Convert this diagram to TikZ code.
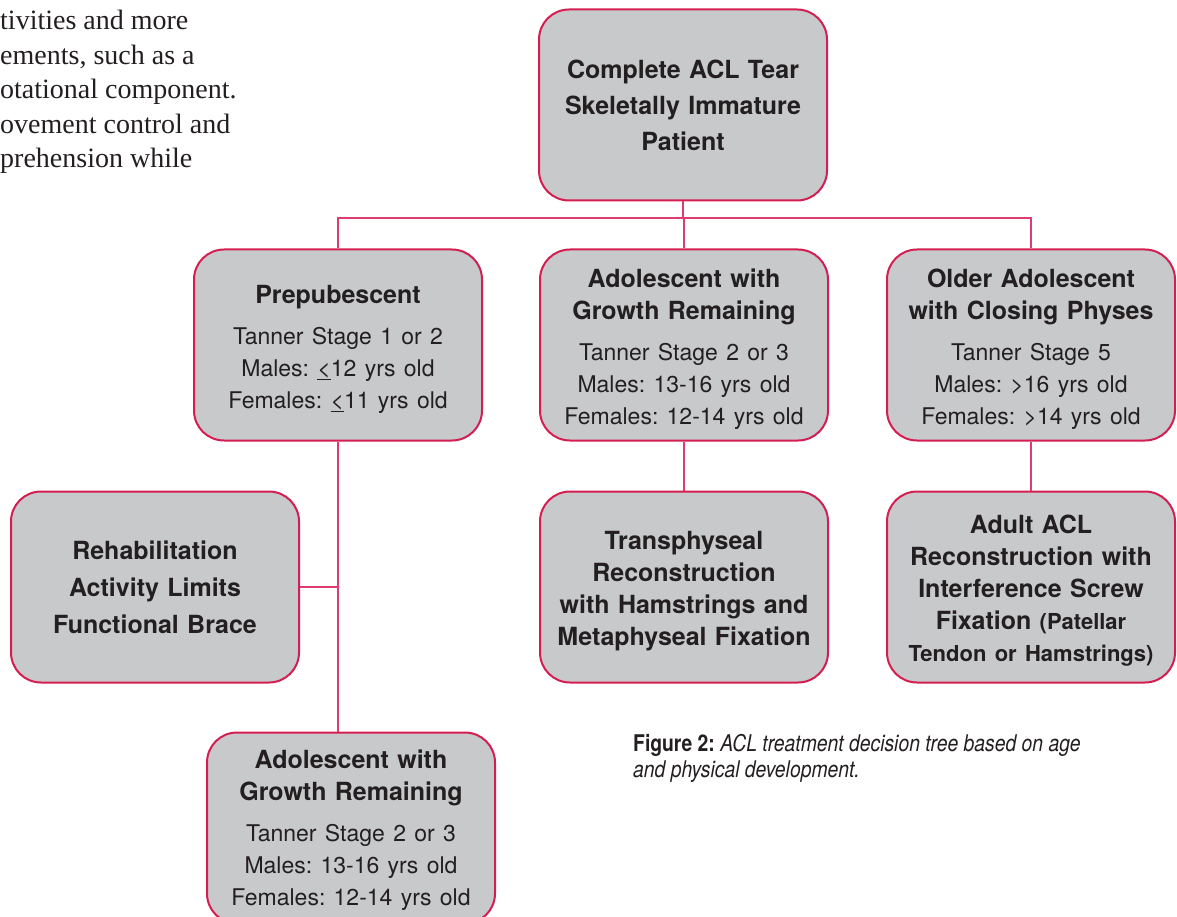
\documentclass[tikz,border=0pt]{standalone}
\usepackage{fontspec}
\setmainfont{TeX Gyre Heros}
\newfontfamily\capface[FakeStretch=0.84]{TeX Gyre Heros}
\newfontfamily\bodyface{Liberation Serif}
\definecolor{aclred}{RGB}{212,30,82}
\definecolor{aclwire}{RGB}{222,60,110}
\definecolor{aclgrey}{RGB}{200,201,203}
\definecolor{acltext}{RGB}{35,31,32}
\newcommand\ttlsize{\fontsize{25}{32}\selectfont\bfseries}
\newcommand\subsize{\fontsize{23}{32}\selectfont\mdseries}
\newcommand\smallttl{\fontsize{22}{32}\selectfont\bfseries}
\frenchspacing
\tikzset{
  box/.style={draw=aclred, line width=2pt, fill=aclgrey, rounded corners=30pt,
    minimum width=288pt, minimum height=191pt, text width=280pt, align=center,
    text=acltext, font=\ttlsize, inner sep=0pt},
  lowered/.style={execute at end node={\par\vspace{-#1}}},
  wire/.style={draw=aclwire, line width=1.6pt},
}
\begin{document}
\begin{tikzpicture}[x=1pt, y=-1pt]
  \useasboundingbox (0,0) rectangle (1177,917);
  \clip (0,0) rectangle (1177,917);
  % running text of the page
  \node[anchor=north west, align=left, inner sep=0pt, text=acltext,
    font=\bodyface\fontsize{28}{34.5}\selectfont] (body) at (0,10)
    {tivities and more\\ements, such as a\\otational component.\\ovement control and\\prehension while};
  % boxes
  \draw
    (683,105) node[box, font=\fontsize{25}{36}\selectfont\bfseries] (tear)
      {Complete ACL Tear\\Skeletally Immature\\Patient}
    (338,345) node[box, lowered=8pt] (pre)
      {Prepubescent\par\vspace{9pt}\subsize Tanner Stage 1 or 2\\Males: \underline{<}12 yrs old\\Females: \underline{<}11 yrs old}
    (684,345) node[box, lowered=8pt] (mid)
      {Adolescent with\\Growth Remaining\par\vspace{9pt}\subsize Tanner Stage 2 or 3\\Males: 13-16 yrs old\\Females: 12-14 yrs old}
    (1031,345) node[box, lowered=8pt] (old)
      {Older Adolescent\\with Closing Physes\par\vspace{9pt}\subsize Tanner Stage 5\\Males: >16 yrs old\\Females: >14 yrs old}
    (155,587) node[box, font=\fontsize{25}{37}\selectfont\bfseries] (rehab)
      {Rehabilitation\\Activity Limits\\Functional Brace}
    (684,587) node[box, lowered=8pt] (trans)
      {Transphyseal\\Reconstruction\\with Hamstrings and\\Metaphyseal Fixation}
    (1031,587) node[box, lowered=8pt] (adult)
      {Adult ACL\\Reconstruction with\\Interference Screw\\Fixation {\smallttl(Patellar}\\{\smallttl Tendon or Hamstrings)}}
    (351,828) node[box, lowered=4pt] (late)
      {Adolescent with\\Growth Remaining\par\vspace{9pt}\subsize Tanner Stage 2 or 3\\Males: 13-16 yrs old\\Females: 12-14 yrs old};
  \coordinate (bus) at (683,218);
  % connectors
  \begin{scope}[wire]
    \draw (tear) to (bus);
    \draw (bus) -| (pre.north);
    \draw (bus) -| (mid.north);
    \draw (bus) -| (old.north);
    \draw (pre.south) to (pre.south |- late.north);
    \draw (rehab.east) to (rehab.east -| pre.south);
    \draw (mid) to (trans);
    \draw (old) to (adult);
  \end{scope}
  % caption
  \node[anchor=north west, align=left, inner sep=0pt, text=acltext,
    font=\capface\fontsize{23}{26}\selectfont] (caption) at (633,734)
    {\textbf{Figure 2:} \textit{ACL treatment decision tree based on age}\\\textit{and physical development.}};
\end{tikzpicture}
\end{document}
